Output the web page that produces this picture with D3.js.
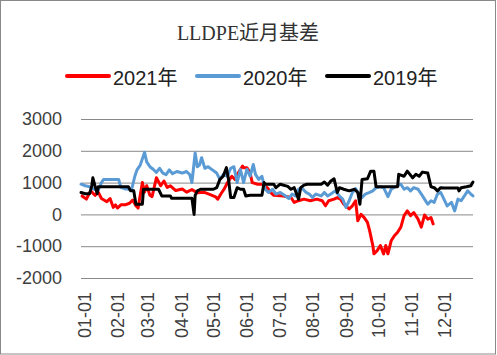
<!DOCTYPE html>
<html><head><meta charset="utf-8">
<script src="https://cdn.jsdelivr.net/npm/d3@7"></script>
<style>body{margin:0;background:#fff} svg{display:block}</style>
</head><body><svg id="c" width="497" height="355"></svg>
<script>
const titleText = "LLDPE近月基差";
const seriesNames = ["2021年", "2020年", "2019年"];
const seriesColors = ["#FF0000", "#5B9BD5", "#000000"];
const yTicks = [-2000, -1000, 0, 1000, 2000, 3000];
const yTickLabels = ["-2000", "-1000", "0", "1000", "2000", "3000"];
const xTickLabels = ["01-01","02-01","03-01","04-01","05-01","06-01","07-01","08-01","09-01","10-01","11-01","12-01"];

const dates2021 = ["01-02","01-06","01-10","01-14","01-17","01-20","01-25","01-28","01-31",
"02-02","02-04","02-07","02-11","02-15","02-18","02-21","02-23","02-27",
"03-01","03-03","03-06","03-08","03-12","03-16","03-19","03-22","03-25","03-30",
"04-05","04-09","04-14","04-19","04-25",
"05-01","05-06","05-08","05-11","05-14","05-17","05-21","05-24","05-27","05-31",
"06-01","06-04","06-07","06-09","06-14","06-18","06-23","06-26","06-29",
"07-08","07-15","07-18","07-22","07-27",
"08-02","08-08","08-13","08-16","08-19","08-24","08-27","08-30",
"09-02","09-07","09-10","09-13","09-15","09-18","09-21","09-24","09-26","09-29","09-30",
"10-03","10-06","10-09","10-11","10-13","10-16","10-19","10-22","10-25","10-28","10-31",
"11-03","11-06","11-10","11-13","11-16","11-19","11-22","11-24"];
const values2021 = [580,480,740,600,700,500,400,500,220,
300,200,300,300,350,450,270,200,1000,
700,900,600,560,1150,900,1050,850,900,750,
800,700,780,680,700,
620,550,480,650,800,1000,1200,1100,1300,1520,
1470,1470,1310,1000,950,950,840,690,600,
580,530,375,430,480,
430,480,430,270,430,480,530,480,
320,170,270,430,-200,0,-100,-250,-510,-980,-1240,
-1140,-980,-1240,-980,-1240,-830,-670,-560,-400,-40,110,
-40,60,-150,-400,-20,-150,-100,-300];

const dates2020 = ["01-01","01-05","01-09","01-14","01-17","01-20","01-22","01-28",
"02-05","02-07","02-11","02-17","02-20","02-22","02-25",
"03-01","03-03","03-06","03-09","03-12","03-15","03-18","03-21","03-24","03-27","03-31",
"04-05","04-09","04-12","04-14","04-17","04-19","04-21","04-23","04-26","04-29",
"05-03","05-07","05-10","05-13","05-17","05-20","05-23","05-26","05-29",
"06-01","06-04","06-07","06-10","06-12","06-15","06-18","06-21","06-24","06-28",
"07-01","07-05","07-10","07-13","07-16","07-19","07-22","07-25","07-29",
"08-01","08-04","08-07","08-12","08-15","08-18","08-21","08-25","08-29",
"09-01","09-04","09-07","09-10","09-13","09-16","09-19","09-22","09-26","09-29",
"10-02","10-06","10-09","10-13","10-16","10-20","10-25","10-28","10-31",
"11-03","11-06","11-10","11-13","11-16","11-19","11-22","11-25","11-28",
"12-01","12-04","12-07","12-11","12-14","12-17","12-20","12-23","12-26","12-29","12-31"];
const values2020 = [950,900,870,780,760,1000,1100,1100,
1100,850,800,790,1200,1400,1550,
1950,1650,1500,1420,1320,1450,1300,1250,1400,1280,1350,
1300,1350,1250,1000,1930,1500,1550,1780,1450,1500,
1400,1300,1100,1250,1200,1450,1500,1000,1420,
1000,1420,1200,1570,1260,1100,1200,790,690,790,
640,690,580,500,640,580,790,840,690,
640,530,640,580,690,580,640,740,580,
480,220,430,690,810,640,530,640,690,740,
840,870,840,560,790,870,950,790,840,
740,840,790,640,480,320,430,380,640,
690,480,270,380,110,480,430,580,740,640,580];

const dates2019 = ["01-01","01-05","01-09","01-11","01-12","01-14","01-16","01-17",
"02-14","02-16","02-19","02-21","02-27","02-28",
"03-14","03-17","03-25","03-26",
"04-14","04-16","04-17","04-19","04-22",
"05-04","05-07","05-10","05-13","05-16","05-18","05-20","05-23","05-26","05-29",
"06-01","06-03","06-07","06-18","06-20","06-21","06-29",
"07-01","07-05","07-12","07-15","07-18","07-22","07-24","07-27","07-30",
"08-12","08-15","08-18","08-21","08-24","08-27","08-29",
"09-02","09-07","09-12","09-15","09-17","09-19","09-24","09-27","09-30",
"10-02","10-22","10-23","10-28","10-31",
"11-05","11-08","11-11","11-14","11-19","11-22","11-25","11-28",
"12-01","12-04","12-17","12-18","12-20","12-25","12-29","12-31"];
const values2019 = [690,650,650,900,1150,900,650,870,
870,740,740,320,320,790,
790,580,580,510,
510,0,600,740,790,
790,840,1100,1200,1470,1100,530,530,840,790,
790,580,600,600,1000,950,950,
840,950,880,790,840,480,840,920,950,
950,1020,920,1050,1120,690,840,
790,740,790,690,320,1100,1120,1360,1360,
870,870,1260,1200,1360,
1150,1260,1200,1330,1300,870,840,740,
840,830,830,740,840,870,900,1020];

const parse = s => new Date(2021, +s.slice(0,2) - 1, +s.slice(3,5));
const series = [
  {name: seriesNames[0], color: seriesColors[0], pts: dates2021.map((d,i)=>({d: parse(d), v: values2021[i]}))},
  {name: seriesNames[1], color: seriesColors[1], pts: dates2020.map((d,i)=>({d: parse(d), v: values2020[i]}))},
  {name: seriesNames[2], color: seriesColors[2], pts: dates2019.map((d,i)=>({d: parse(d), v: values2019[i]}))}
];

const svg = d3.select("#c");
svg.append("rect").attr("x",0.5).attr("y",0.5).attr("width",495).attr("height",353.5)
  .attr("fill","#fff").attr("stroke","#898989");

const x = d3.scaleTime().domain([new Date(2021,0,1), new Date(2021,11,31)]).range([81,473]);
const y = d3.scaleLinear().domain([-2000,3000]).range([278,119]);

// y grid + labels
const gy = svg.append("g").attr("transform","translate(81,0)")
  .call(d3.axisLeft(y).tickValues(yTicks).tickSize(-(473-81)).tickPadding(19)
    .tickFormat((d,i)=>yTickLabels[i]));
gy.select(".domain").remove();
gy.selectAll("line").attr("stroke","#898989");
gy.selectAll("text").attr("fill","#404040").style("font-family","'Liberation Sans', Arial, sans-serif").style("font-size","18px");

// x labels
const gx = svg.append("g").attr("transform","translate(0,278)")
  .call(d3.axisBottom(x).tickValues(xTickLabels.map(parse)).tickSize(0)
    .tickFormat((d,i)=>xTickLabels[i]));
gx.select(".domain").remove();
gx.selectAll("line").remove();
gx.selectAll("text").attr("x",null).attr("y",null).attr("dy","0.35em")
  .attr("text-anchor","end").attr("transform","translate(3,14) rotate(-90)")
  .attr("fill","#404040").style("font-family","'Liberation Sans', Arial, sans-serif").style("font-size","18px");

// lines
const line = d3.line().x(p=>x(p.d)).y(p=>y(p.v));
svg.append("g").selectAll("path").data(series).join("path")
  .attr("d", s=>line(s.pts)).attr("fill","none").attr("stroke", s=>s.color)
  .attr("stroke-width",3).attr("stroke-linejoin","round").attr("stroke-linecap","round");

// title
svg.append("text").attr("x",248).attr("y",40).attr("text-anchor","middle")
  .attr("fill","#333").style("font-family","'Liberation Serif', 'Noto Sans CJK SC', serif")
  .style("font-size","20px").text(titleText);

// legend
const legX = [67, 197, 327];
const leg = svg.append("g").selectAll("g").data(series).join("g")
  .attr("transform",(s,i)=>`translate(${legX[i]},76)`);
leg.append("line").attr("x1",0).attr("x2",42).attr("y1",0).attr("y2",0)
  .attr("stroke",s=>s.color).attr("stroke-width",4).attr("stroke-linecap","round");
leg.append("text").attr("x",46).attr("y",9).attr("fill","#222")
  .style("font-family","'Liberation Sans', 'Noto Sans CJK SC', sans-serif").style("font-size","20px")
  .text(s=>s.name);
</script></body></html>
